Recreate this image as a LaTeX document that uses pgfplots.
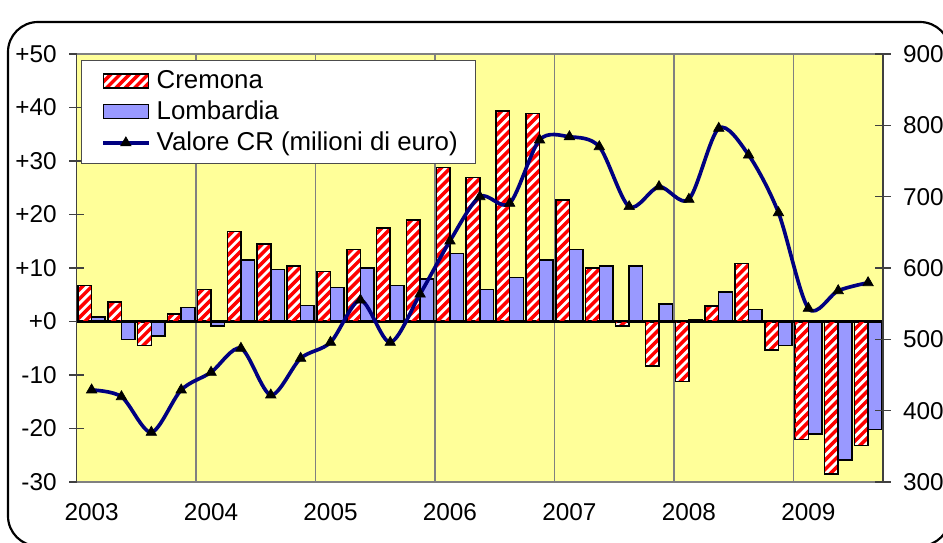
\documentclass[border=0pt]{standalone}
\usepackage{fontspec}
\setmainfont{Liberation Sans}
\usepackage{pgfplots}
\pgfplotsset{compat=1.18}
\usepackage{pgfplotstable}

\definecolor{bgyellow}{RGB}{255,255,153}
\definecolor{lomb}{RGB}{153,153,255}
\definecolor{navyline}{RGB}{0,0,128}
\definecolor{gridgray}{RGB}{128,128,128}

\pgfplotstableread{
q cre lom val
0 6.7 0.8 429
1 3.6 -3.4 419.6
2 -4.5 -2.7 369.7
3 1.4 2.6 429
4 6.0 -0.8 453.8
5 16.8 11.5 487.4
6 14.5 9.7 422
7 10.4 3.0 473.4
8 9.3 6.4 495.8
9 13.5 10.0 555
10 17.5 6.7 495.8
11 19.0 7.9 563.5
12 28.8 12.7 637.9
13 26.9 6.0 700
14 39.3 8.2 690.7
15 38.9 11.5 779.5
16 22.7 13.5 784
17 10.0 10.4 770
18 -0.8 10.4 686
19 -8.3 3.3 714
20 -11.2 0.3 696.3
21 2.9 5.5 795.8
22 10.8 2.2 758.4
23 -5.3 -4.5 677.5
24 -22.1 -21.0 543.5
25 -28.5 -25.9 568.2
26 -23.2 -20.2 579.4
}\data

% stripes inside the rectangle (x0,y0)-(x1,y1), all in pt
\newcommand\redstripes[4]{%
  \pgfscope
  \pgfpathrectanglecorners{\pgfpoint{#1}{#2}}{\pgfpoint{#3}{#4}}%
  \pgfusepath{clip}%
  \pgfsetlinewidth{2.1pt}%
  \pgfsetstrokecolor{red}%
  \foreach \k in {-50,...,2}{%
    \pgfpathmoveto{\pgfpoint{\k*5.6pt}{-135pt}}%
    \pgfpathlineto{\pgfpoint{\k*5.6pt+285pt}{150pt}}%
  }%
  \pgfusepath{stroke}%
  \endpgfscope
  \pgfscope
  \pgfsetlinewidth{0.9pt}%
  \pgfsetstrokecolor{black}%
  \pgfpathrectanglecorners{\pgfpoint{#1}{#2}}{\pgfpoint{#3}{#4}}%
  \pgfusepath{stroke}%
  \endpgfscope
}

\pgfplotsset{
  cremona/.style={ybar, bar width=0.455, bar shift=-0.2275, fill=white, draw=black, line width=0.9pt},
  lombardia/.style={fill=lomb, draw=black, line width=0.9pt},
  valore/.style={navyline, line width=2.2pt, smooth, tension=0.5, mark=triangle*,
    mark size=3.6pt, mark options={black, fill=black, solid, line width=0.4pt}},
  lblfont/.style={font=\fontsize{14.6}{16}\selectfont},
  crelegend/.style={legend image code/.code={%
    \pgfpathrectanglecorners{\pgfqpoint{-4.8pt}{-4.2pt}}{\pgfqpoint{30pt}{4.2pt}}\pgfusepath{discard}%
    \fill[white] (0pt,-4.2pt) rectangle (27pt,4.2pt);
    \redstripes{0pt}{-4.2pt}{27pt}{4.2pt}}},
  boxlegend/.style={legend image code/.code={%
    \pgfpathrectanglecorners{\pgfqpoint{-4.8pt}{-4.2pt}}{\pgfqpoint{30pt}{4.2pt}}\pgfusepath{discard}%
    \draw[##1] (0pt,-4.2pt) rectangle (27pt,4.2pt);}},
  linelegend/.style={legend image code/.code={%
    \pgfpathrectanglecorners{\pgfqpoint{-4.8pt}{-4.2pt}}{\pgfqpoint{30pt}{4.2pt}}\pgfusepath{discard}%
    \draw[##1, mark repeat=2, mark phase=2] plot coordinates {(0pt,0pt) (13.5pt,0pt) (27pt,0pt)};}},
}

\begin{document}
\begin{tikzpicture}
\useasboundingbox (0,0) rectangle (565.8pt,325.2pt);
\draw[black, line width=1.3pt, rounded corners=18pt] (4.8pt,-2.4pt) rectangle (570pt,312pt);

\begin{axis}[
  at={(46pt,36pt)}, anchor=south west,
  scale only axis, width=483.8pt, height=256.8pt,
  xmin=-0.5, xmax=26.5, ymin=-30, ymax=50,
  axis background/.style={fill=bgyellow},
  axis x line=box, axis y line*=left,
  x axis line style={gridgray, line width=0.8pt},
  y axis line style={black!75, line width=0.8pt, -},
  xtick={3.5,7.5,11.5,15.5,19.5,23.5}, xticklabels={},
  xmajorgrids, major grid style={gridgray, line width=0.8pt},
  x tick style={draw=none},
  extra x ticks={0,4,8,12,16,20,24},
  extra x tick labels={2003,2004,2005,2006,2007,2008,2009},
  extra x tick style={grid=none, xticklabel style={yshift=-5pt}},
  ytick={-30,-20,...,50},
  yticklabels={-30,-20,-10,+0,+10,+20,+30,+40,+50},
  tick align=center, major tick length=9pt,
  y tick style={black!75, line width=0.8pt},
  ticklabel style={lblfont},
  yticklabel style={xshift=-4pt},
]
\addplot[cremona] table[x=q,y=cre]{\data};
\addplot[ybar, bar width=0.455, bar shift=0.2275, lombardia] table[x=q,y=lom]{\data};
% red hatching of the Cremona bars (bar from y=cre down to y=0; 1 unit = 3.21pt, bar width 8.153pt)
\addplot[only marks, mark=*, mark size=0pt, mark options={draw=none, fill=none},
  scatter, point meta=y,
  visualization depends on={rawy \as \crev},
  scatter/@pre marker code/.code={%
    \pgfmathsetmacro\hh{-3.21*\crev}%
    \redstripes{-8.153pt}{0pt}{0pt}{\hh pt}%
    \pgfscope},
  scatter/@post marker code/.code={\endpgfscope}]
  table[x=q,y=cre]{\data};
\draw[black, line width=1.8pt] (axis cs:-0.5,0) -- (axis cs:26.5,0);
\end{axis}

\begin{axis}[
  at={(46pt,36pt)}, anchor=south west,
  scale only axis, width=483.8pt, height=256.8pt,
  xmin=-0.5, xmax=26.5, ymin=300, ymax=900,
  axis x line=none, axis y line*=right,
  y axis line style={black!75, line width=0.8pt, -},
  ytick={300,400,...,900},
  yticklabels={300,400,500,600,700,800,900},
  tick align=center, major tick length=9pt,
  y tick style={black!75, line width=0.8pt},
  ticklabel style={lblfont},
  yticklabel style={xshift=4pt},
  legend cell align=left,
  legend style={at={(0.005,0.986)}, anchor=north west, draw=black!70, line width=0.6pt,
    fill=white, font=\fontsize{15.5}{17.5}\selectfont, row sep=2pt,
    inner xsep=8.5pt, inner ysep=4pt},
]
\addlegendimage{crelegend}
\addlegendimage{lombardia, boxlegend}
\addplot[valore, linelegend] table[x=q,y=val]{\data};
\legend{Cremona, Lombardia, Valore CR (milioni di euro)}
\end{axis}
\end{tikzpicture}
\end{document}
